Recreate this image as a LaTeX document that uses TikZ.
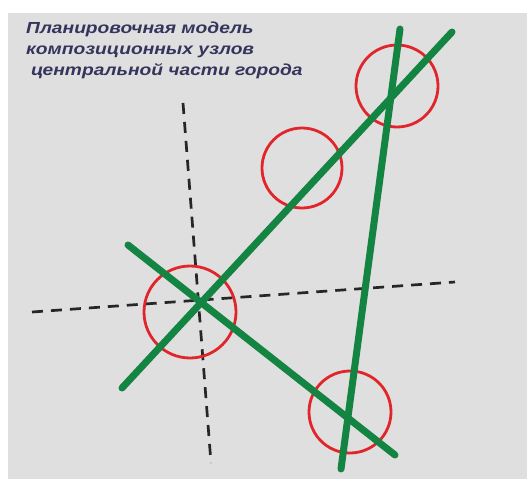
\documentclass[tikz,border=0pt]{standalone}
\usepackage{fontspec}
\setmainfont{Liberation Sans}
\usepackage{tikz}
\usetikzlibrary{positioning}

\definecolor{fonGray}{HTML}{DFDFDF}
\definecolor{osGreen}{HTML}{148443}
\definecolor{uzelRed}{HTML}{E0262B}
\definecolor{titleInk}{HTML}{34345C}

\tikzset{
  osline/.style={osGreen, line width=7pt, line cap=round},
  uzel/.style={uzelRed, line width=2.8pt},
  axisline/.style={black!85, line width=2.7pt, dash pattern=on 11pt off 8pt},
}

\begin{document}
\begin{tikzpicture}[x=1pt, y=-1pt]
  \useasboundingbox (0,0) rectangle (527,479);
  % Fon
  \fill[white] (0,0) rectangle (527,479);
  \fill[fonGray] (8,13) rectangle (527,479);
  % Zagolovok
  \node[anchor=north west, align=left, text=titleInk, inner sep=0pt,
        font=\fontsize{16}{21}\selectfont\bfseries\itshape, xscale=1.2] (title) at (26,22)
    {Планировочная модель\\композиционных узлов\\\hspace*{4pt}центральной части города};
  % Osi
  \coordinate (hW) at (32,312);
  \coordinate (hE) at (455,282);
  \coordinate (vN) at (183,103);
  \coordinate (vS) at (211,463);
  \draw[axisline] (hW) -- (hE);
  \draw[axisline] (vN) -- (vS);
  % Uzly
  \coordinate (u1) at (190,312);
  \coordinate (u2) at (302,168);
  \coordinate (u3) at (397,86);
  \coordinate (u4) at (350,412);
  \draw[uzel] (u1) circle (46);
  \draw[uzel] (u2) circle (40);
  \draw[uzel] (u3) circle (41);
  \draw[uzel] (u4) circle (41);
  % Kompozicionnye osi
  \coordinate (aSW) at (122,388);
  \coordinate (aNE) at (452,32);
  \coordinate (bNW) at (128,245);
  \coordinate (bSE) at (395,455);
  \coordinate (cN) at (400,29);
  \coordinate (cS) at (341,469);
  \draw[osline] (aSW) -- (aNE);
  \draw[osline] (bNW) -- (bSE);
  \draw[osline] (cN) -- (cS);
\end{tikzpicture}
\end{document}
